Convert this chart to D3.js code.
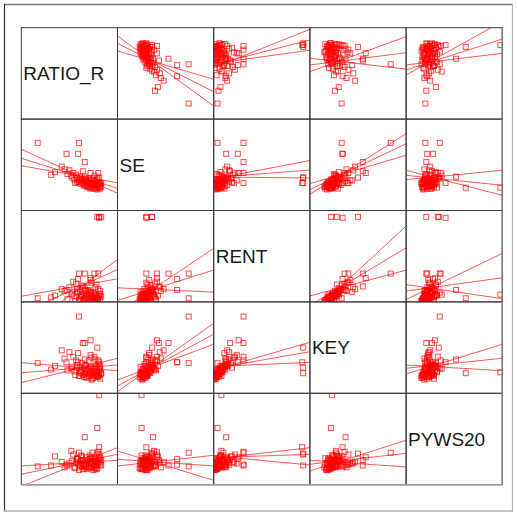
<!DOCTYPE html>
<html>
<head>
<meta charset="utf-8">
<script src="https://cdn.jsdelivr.net/npm/d3@7"></script>
<style>
  html, body { margin: 0; padding: 0; background: #fff; }
  svg { display: block; }
</style>
</head>
<body>
<svg id="chart" width="517" height="512"></svg>
<script>
// ---- Data (each variable on a 0–100 scale spanning its panel) ----
const variables = ["RATIO_R", "SE", "RENT", "KEY", "PYWS20"];

const ratioR = [17,60,83,81,81,79,81,79,66,47,59,82,80,78,76,75,73,72,70,69,68,67,66,65,64,63,62,61,60,58,57,55,54,52,50,48,45,42,35,31,80,78,77,74,72,71,70,68,66,82,81,79,77,75,74,73,71,72,66,64,62,59,56,53,82,76,79,76,80,78,74,70,68,65,63,72,76,80,83,67,61,58,73,77];
const se     = [74,74,30,36,30,36,25,25,37,62,62,24,26,25,27,29,28,30,31,27,33,29,34,32,30,35,33,37,31,36,39,34,41,38,44,40,45,48,42,39,28,31,24,26,33,25,35,26,53,27,29,23,32,24,35,30,28,41,28,43,29,33,30,36,30,38,34,30,41,27,29,26,31,27,32,24,33,31,26,35,34,31,26,29];
const rent   = [4,31,93,93,92,93,8,4,13,13,25,2,5,3,8,1,6,10,4,12,7,3,15,9,2,18,5,11,1,14,20,6,22,8,16,3,12,14,7,5,14,19,4,2,24,8,13,1,31,9,6,3,16,5,10,21,2,26,4,17,7,11,1,9,12,6,2,31,31,7,3,9,5,2,8,11,4,1,6,12,3,10,0,9];
const key    = [33,84,22,28,34,50,23,22,37,34,34,16,18,20,19,17,22,24,21,26,25,18,30,28,20,33,23,29,19,31,36,24,40,27,45,25,38,47,30,26,32,28,21,16,42,23,35,17,55,26,20,18,37,22,27,39,19,58,21,55,24,44,20,29,30,27,25,40,36,24,20,27,22,18,26,29,23,19,21,31,22,28,15,30];
const pyws20 = [20,35,21,33,41,34,98,62,52,22,28,22,24,17,26,16,23,28,18,25,30,19,27,21,17,31,26,20,16,29,25,19,33,37,24,21,19,25,31,21,27,31,18,29,23,32,20,17,21,25,29,18,22,26,35,24,28,30,20,27,32,23,18,26,30,20,25,22,36,21,24,19,27,23,20,25,18,23,27,22,24,28,19,26];

const series = [ratioR, se, rent, key, pyws20];

// Fitted lines per panel [row][col]: y value at x = 0 and at x = 100 (three lines each)
const fitAtMin = [
  [null, [90.9,82.9,74.6], [56.3,59.6,60.8], [66.5,59.2,51.9], [48.2,53.7,59.2]],
  [[67.0,57.1,49.0], null, [34.5,36.1,36.7], [17.7,22.8,29.3], [44.0,38.5,33.7]],
  [[-32.4,-12.3,6.1], [-11.8,1.6,15.4], null, [-14.2,-3.9,6.5], [19.0,11.8,2.6]],
  [[33.5,22.5,11.6], [1.8,8.0,14.6], [25.5,27.2,29.3], null, [31.0,27.4,21.1]],
  [[20.5,11.4,-1.9], [36.9,27.8,20.5], [28.4,29.6,31.5], [26.7,22.3,15.0], null]
];
const fitAtMax = [
  [null, [14.3,30.0,43.5], [98.2,86.5,75.4], [54.8,72.6,90.2], [106.8,87.6,72.0]],
  [[18.8,24.3,30.4], null, [54.7,44.3,35.6], [84.0,73.1,60.4], [16.6,27.6,44.0]],
  [[46.4,35.4,25.3], [58.5,34.8,10.7], null, [82.9,59.2,34.8], [3.5,26.4,53.0]],
  [[24.7,31.0,38.3], [76.6,64.6,53.6], [55.8,45.5,33.9], null, [24.7,38.3,53.6]],
  [[26.7,33.3,40.5], [4.8,20.5,32.2], [40.5,33.3,21.6], [19.4,34.4,48.6], null]
];

const valueDomain = [0, 100];

// ---- Layout ----
const svg = d3.select("#chart");
const gridLeft = 21.3, gridTop = 27.7;
const cellW = 96.2, cellH = 91.4;
const n = variables.length;

const x = d3.scaleLinear().domain(valueDomain).range([0, cellW]);
const y = d3.scaleLinear().domain(valueDomain).range([cellH, 0]);

// outer frame
const frame = svg.append("g");
frame.append("line").attr("x1", 4).attr("x2", 513).attr("y1", 4.5).attr("y2", 4.5)
  .attr("stroke", "#7a7a7a").attr("stroke-width", 1.6);
frame.append("line").attr("x1", 4.5).attr("x2", 4.5).attr("y1", 4).attr("y2", 511.5)
  .attr("stroke", "#333").attr("stroke-width", 1.2);
frame.append("line").attr("x1", 4).attr("x2", 513).attr("y1", 511).attr("y2", 511)
  .attr("stroke", "#b0b0b0").attr("stroke-width", 1.4);
frame.append("line").attr("x1", 512.5).attr("x2", 512.5).attr("y1", 4).attr("y2", 511.5)
  .attr("stroke", "#b0b0b0").attr("stroke-width", 1.2);

const defs = svg.append("defs");
defs.append("clipPath").attr("id", "cellclip")
  .append("rect").attr("x", 0).attr("y", 0).attr("width", cellW).attr("height", cellH);

for (let r = 0; r < n; r++) {
  for (let c = 0; c < n; c++) {
    const g = svg.append("g")
      .attr("transform", `translate(${gridLeft + c * cellW},${gridTop + r * cellH})`);
    const inner = g.append("g").attr("clip-path", "url(#cellclip)");
    if (r === c) {
      g.append("text")
        .attr("x", 2)
        .attr("y", cellH / 2 + 6.8)
        .attr("font-family", "'Liberation Sans', Arial, Helvetica, sans-serif")
        .attr("font-size", 19)
        .attr("fill", "#1a1a1a")
        .text(variables[r]);
    } else {
      const xs = series[c], ys = series[r];
      const pts = xs.map((v, i) => [v, ys[i]]);
      // fitted lines
      const lo = fitAtMin[r][c], hi = fitAtMax[r][c];
      const lines = lo.map((v, k) => [[valueDomain[0], v], [valueDomain[1], hi[k]]]);
      inner.selectAll("line.fit").data(lines).enter().append("line")
        .attr("class", "fit")
        .attr("x1", d => x(d[0][0])).attr("y1", d => y(d[0][1]))
        .attr("x2", d => x(d[1][0])).attr("y2", d => y(d[1][1]))
        .attr("stroke", "#ff2020").attr("stroke-opacity", 0.75).attr("stroke-width", 1);
      // points
      inner.selectAll("rect.pt").data(pts).enter().append("rect")
        .attr("class", "pt")
        .attr("x", d => x(d[0]) - 2.5)
        .attr("y", d => y(d[1]) - 2.5)
        .attr("width", 5).attr("height", 5)
        .attr("fill", "none")
        .attr("stroke", "#ff0000").attr("stroke-opacity", 0.7).attr("stroke-width", 1);
    }
    g.append("rect")
      .attr("x", 0).attr("y", 0).attr("width", cellW).attr("height", cellH)
      .attr("fill", "none").attr("stroke", "#3a3a3a").attr("stroke-width", 1);
  }
}
// outer grid edge (slightly heavier grey on right/bottom)
svg.append("line").attr("x1", gridLeft + n * cellW).attr("x2", gridLeft + n * cellW)
  .attr("y1", gridTop).attr("y2", gridTop + n * cellH).attr("stroke", "#777").attr("stroke-width", 1.4);
svg.append("line").attr("x1", gridLeft).attr("x2", gridLeft + n * cellW)
  .attr("y1", gridTop + n * cellH).attr("y2", gridTop + n * cellH).attr("stroke", "#999").attr("stroke-width", 1.6);
</script>
</body>
</html>
